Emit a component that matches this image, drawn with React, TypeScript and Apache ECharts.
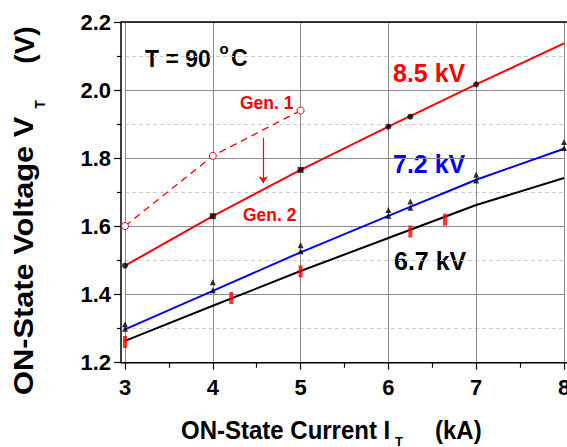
import React, { useEffect, useRef } from "react";
import * as echarts from "echarts";

// ---------- data ----------
const lineX = [3, 4, 5, 6, 7, 8];
const kv85 = [1.485, 1.63, 1.766, 1.893, 2.017, 2.137];
const kv72 = [1.298, 1.411, 1.524, 1.631, 1.737, 1.828];
const kv67 = [1.264, 1.367, 1.469, 1.566, 1.663, 1.742];

const gen1X = [3, 4, 5];
const gen1 = [1.601, 1.807, 1.94];

const kv85PtsX = [3, 4, 5, 6, 6.25, 7];
const kv85PtsY = [1.485, 1.63, 1.766, 1.893, 1.922, 2.017];
const kv85PtsSymbol = ["circle", "rect", "rect", "circle", "circle", "circle"];

const triX = [3, 3, 4, 4, 5, 5, 6, 6, 6.25, 6.25, 7, 7, 8, 8];
const triY = [1.3, 1.313, 1.413, 1.436, 1.527, 1.545, 1.631, 1.648, 1.655, 1.673, 1.735, 1.752, 1.83, 1.848];

const barX = [3, 4.21, 5, 6.25, 6.645];
const barY = [1.261, 1.39, 1.468, 1.585, 1.62];

const arrowX = 4.574;
const arrowY = [1.86, 1.727];

const xTicks = [3, 4, 5, 6, 7, 8];
const yTicks = [1.2, 1.4, 1.6, 1.8, 2.0, 2.2];

const FONT = "'Liberation Sans', Arial, Helvetica, sans-serif";

export default function App() {
  const ref = useRef<HTMLDivElement>(null);
  useEffect(() => {
    if (!ref.current) return;
    const chart = echarts.init(ref.current, null, { renderer: "svg" });
    const zip = (xs: number[], ys: number[]) => xs.map((x, i) => [x, ys[i]]);

    const txt = (
      text: string,
      x: number,
      y: number,
      size: number,
      color: string,
      align: string,
      extra: any = {}
    ) => ({
      type: "text",
      x,
      y,
      silent: true,
      ...extra,
      style: {
        text,
        fill: color,
        font: `bold ${size}px ${FONT}`,
        textAlign: align,
        textVerticalAlign: "middle",
      },
    });

    const option: any = {
      animation: false,
      backgroundColor: "#ffffff",
      grid: {
        left: 125,
        right: 3,
        top: 22,
        bottom: 84.3,
        containLabel: false,
        outerBoundsMode: "none",
      },
      xAxis: {
        type: "value",
        min: xTicks[0],
        max: xTicks[xTicks.length - 1],
        interval: 1,
        axisLine: { show: false },
        axisTick: { show: true, inside: false, length: 7, lineStyle: { color: "#000", width: 1.2 } },
        minorTick: { show: true, splitNumber: 2, length: 5, lineStyle: { color: "#000", width: 1.2 } },
        splitLine: { show: true, lineStyle: { color: "#8c8c8c", width: 1 } },
        axisLabel: {
          show: true,
          margin: 14,
          color: "#000",
          fontFamily: FONT,
          fontWeight: "bold",
          fontSize: 22,
          hideOverlap: false,
          formatter: (v: number) => (xTicks.includes(v) ? String(v) : ""),
        },
      },
      yAxis: {
        type: "value",
        min: yTicks[0],
        max: yTicks[yTicks.length - 1],
        interval: 0.2,
        offset: 4,
        axisLine: { show: true, lineStyle: { color: "#000", width: 1.5 } },
        axisTick: { show: true, inside: false, length: 7, lineStyle: { color: "#000", width: 1.2 } },
        minorTick: { show: true, splitNumber: 2, length: 4, lineStyle: { color: "#000", width: 1.2 } },
        splitLine: { show: true, lineStyle: { color: "#8c8c8c", width: 1 } },
        minorSplitLine: { show: true, lineStyle: { color: "#cccccc", width: 1, type: [4, 3] } },
        axisLabel: {
          show: true,
          margin: 10,
          color: "#000",
          fontFamily: FONT,
          fontWeight: "bold",
          fontSize: 22,
          formatter: (v: number) => v.toFixed(1),
        },
      },
      series: [
        {
          name: "Gen. 1",
          type: "line",
          data: zip(gen1X, gen1),
          symbol: "circle",
          symbolSize: 7,
          showSymbol: true,
          itemStyle: { color: "#ffffff", borderColor: "#ff0000", borderWidth: 1 },
          lineStyle: { color: "#ff0000", width: 1.3, type: [7, 5] },
          z: 3,
          markLine: {
            silent: true,
            symbol: ["none", "arrow"],
            symbolSize: 7,
            label: { show: false },
            lineStyle: { color: "#ff0000", width: 1.2, type: "solid" },
            data: [[{ coord: [arrowX, arrowY[0]] }, { coord: [arrowX, arrowY[1]] }]],
          },
        },
        {
          name: "8.5 kV",
          type: "line",
          data: zip(lineX, kv85),
          showSymbol: false,
          lineStyle: { color: "#ff0000", width: 2 },
          z: 3,
        },
        {
          name: "7.2 kV",
          type: "line",
          data: zip(lineX, kv72),
          showSymbol: false,
          lineStyle: { color: "#0000ff", width: 2 },
          z: 3,
        },
        {
          name: "6.7 kV",
          type: "line",
          data: zip(lineX, kv67),
          showSymbol: false,
          lineStyle: { color: "#000000", width: 2 },
          z: 3,
        },
        {
          name: "8.5 kV points",
          type: "scatter",
          data: kv85PtsX.map((x, i) => ({ value: [x, kv85PtsY[i]], symbol: kv85PtsSymbol[i] })),
          symbolSize: 6,
          itemStyle: { color: "#000000" },
          z: 4,
        },
        {
          name: "7.2 kV points",
          type: "scatter",
          data: zip(triX, triY),
          symbol: "triangle",
          symbolSize: 6,
          itemStyle: { color: "#000000" },
          z: 4,
        },
        {
          name: "6.7 kV points",
          type: "scatter",
          data: zip(barX, barY),
          symbol: "rect",
          symbolSize: [4, 12],
          itemStyle: { color: "#ff0000" },
          z: 4,
        },
      ],
      graphic: [
        { type: "line", silent: true, z: 10, shape: { x1: 121, y1: 362.7, x2: 567, y2: 362.7 }, style: { stroke: "#000", lineWidth: 1.5 } },
        { type: "line", silent: true, z: 10, shape: { x1: 121, y1: 22, x2: 567, y2: 22 }, style: { stroke: "#000", lineWidth: 1.5 } },
        // x axis title
        txt("ON-State Current I", 181, 430, 24, "#000", "left", { scaleY: 1.1 }),
        txt("T", 399, 441, 13, "#000", "center"),
        txt("(kA)", 435, 430, 24, "#000", "left", { scaleY: 1.1 }),
        // y axis title
        txt("ON-State Voltage V", 23, 395, 28, "#000", "left", { rotation: Math.PI / 2, scaleX: 1.1 }),
        txt("T", 40, 104.5, 14, "#000", "center", { rotation: Math.PI / 2 }),
        txt("(V)", 24, 45, 28, "#000", "center", { rotation: Math.PI / 2 }),
        // annotations
        txt("T = 90", 145, 58, 23, "#000", "left", { scaleY: 1.08 }),
        txt("o", 224, 48, 15, "#000", "center"),
        txt("C", 231, 57, 23, "#000", "left", { scaleY: 1.08 }),
        txt("8.5 kV", 393, 72.5, 25, "#ff0000", "left", { scaleY: 1.05 }),
        txt("7.2 kV", 393, 164, 25, "#0000ff", "left", { scaleY: 1.05 }),
        txt("6.7 kV", 394, 261, 25, "#000", "left", { scaleY: 1.05 }),
        txt("Gen. 1", 240, 102.5, 17.5, "#ff0000", "left", { scaleY: 1.08 }),
        txt("Gen. 2", 243, 215, 17.5, "#ff0000", "left", { scaleY: 1.08 }),
      ],
    };
    chart.setOption(option);
    return () => chart.dispose();
  }, []);
  return (
    <div
      ref={ref}
      style={{ position: "absolute", left: 0, top: 0, width: 567, height: 447, background: "#fff" }}
    />
  );
}
